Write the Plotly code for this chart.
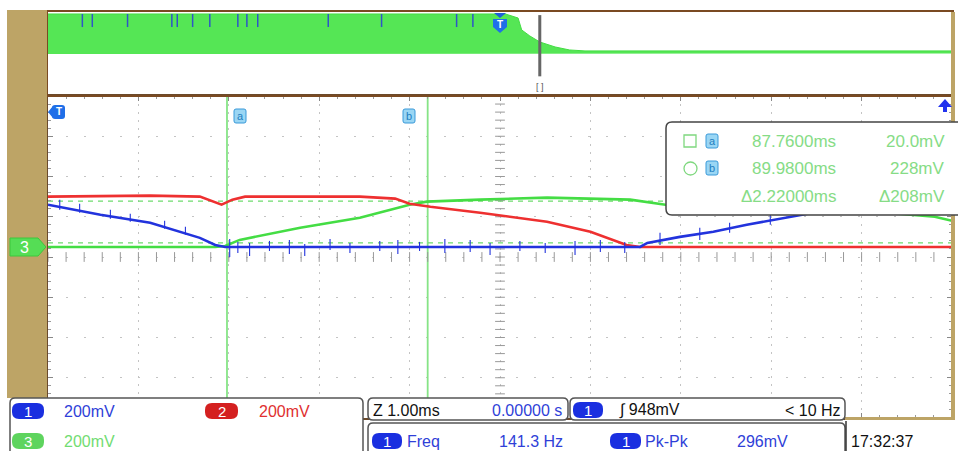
import numpy as np
import plotly.graph_objects as go

# ---------------- data ----------------
# main window: time in ms (1 ms/div), volts in mV (200 mV/div, all grounds on the same level)
red_t = [85.78, 86.91, 87.46, 87.63, 87.70, 87.82, 87.96, 89.23, 89.62, 89.78, 90.01, 90.56, 91.30, 91.78, 92.18, 92.33, 95.78]
red_v = [250, 255, 250, 220, 210, 235, 250, 250, 240, 215, 200, 170, 125, 75, 10, 0, 0]

green_t = [85.78, 87.63, 87.74, 87.90, 88.57, 89.23, 89.78, 89.97, 90.56, 91.30, 92.22, 92.61, 94.10, 95.59, 95.78]
green_v = [0, 0, 5, 35, 95, 145, 210, 225, 235, 245, 235, 210, 205, 150, 130]

blue_t = [85.78, 86.36, 86.91, 87.46, 87.63, 87.74, 92.33, 92.41, 92.77, 93.14, 93.51, 93.99, 94.43, 95.78]
blue_v = [210, 160, 120, 45, 10, 0, 0, 20, 50, 75, 110, 150, 185, 260]

# noise spikes on ch1 (time, low, high)
spike_t = [85.91, 86.13, 86.47, 86.69, 87.07, 87.30, 87.79, 87.88, 88.01, 88.23, 88.45, 88.62, 88.90, 89.12,
           89.45, 89.65, 89.89, 90.17, 90.45, 90.67, 91.00, 91.28, 91.61, 91.89, 92.16, 92.55, 92.99, 93.32, 93.77]
spike_lo = [185, 170, 140, 125, 90, 60, -50, -30, -45, -20, -35, -45, -15, -30,
            -20, -35, -20, -30, -25, -40, -20, -30, -40, -25, -30, 10, 35, 70, 110]
spike_hi = [235, 215, 185, 165, 130, 100, 40, 25, 20, 30, 35, 15, 40, 20,
            30, 35, 25, 40, 35, 20, 30, 20, 30, 35, 25, 70, 95, 120, 165]

# cursors
cur_a_t, cur_b_t = 87.76, 89.98
cur_a_v, cur_b_v = 20.0, 228.0

# overview window (divisions)
ov_t = [0, 5.06, 5.20, 5.24, 5.33, 5.44, 5.61, 5.77, 5.94, 10]
ov_hi = [3.81, 3.81, 3.42, 2.27, 1.69, 1.11, 0.63, 0.34, 0.25, 0.25]
ov_lo = [-0.05, -0.05, -0.05, -0.02, 0, 0, 0, 0, 0, 0]
ov_spike_t = [0.38, 0.49, 0.88, 1.37, 1.43, 1.60, 1.79, 2.10, 2.20, 2.32, 3.10, 3.69, 4.52, 4.70]
zoom_pos = 5.44

# readouts
ch_scale = ["200mV", "200mV", "200mV"]
readout_a = ["87.7600ms", "20.0mV"]
readout_b = ["89.9800ms", "228mV"]
readout_d = ["Δ2.22000ms", "Δ208mV"]

W, H = 958, 451
FONT = "Liberation Sans, Arial"
BLUE, RED, GREEN = "#2233dd", "#ee3030", "#44dd44"
TAN = "#bda466"


def px(x):
    return x / W


def py(y):
    return 1 - y / H


def rrect(x0, y0, x1, y1, r):
    # rounded rect path in paper coords from pixel numbers
    p = [f"M{px(x0 + r)},{py(y0)}", f"L{px(x1 - r)},{py(y0)}", f"Q{px(x1)},{py(y0)} {px(x1)},{py(y0 + r)}",
         f"L{px(x1)},{py(y1 - r)}", f"Q{px(x1)},{py(y1)} {px(x1 - r)},{py(y1)}", f"L{px(x0 + r)},{py(y1)}",
         f"Q{px(x0)},{py(y1)} {px(x0)},{py(y1 - r)}", f"L{px(x0)},{py(y0 + r)}",
         f"Q{px(x0)},{py(y0)} {px(x0 + r)},{py(y0)}", "Z"]
    return " ".join(p)


def poly(pts):
    return "M" + " L".join(f"{px(a)},{py(b)}" for a, b in pts) + " Z"


fig = go.Figure()

# cursors (drawn first so the waveforms sit on top)
for t in [cur_a_t, cur_b_t]:
    fig.add_trace(go.Scatter(x=[t, t], y=[-850, 750], mode="lines", line=dict(color="#86e486", width=1.8),
                             hoverinfo="skip"))
for v in [cur_a_v, cur_b_v]:
    fig.add_trace(go.Scatter(x=[85.78, 95.78], y=[v, v], mode="lines",
                             line=dict(color="#6edc6e", width=1.2, dash="5px,5px"), hoverinfo="skip"))

# centre graticule ticks
gx = np.arange(85.78, 95.79, 0.2)
gy = np.arange(-850, 751, 40)
fig.add_trace(go.Scatter(x=gx, y=[-50] * len(gx), mode="markers",
                         marker=dict(symbol="line-ns", size=7, line=dict(color="#999", width=1)), hoverinfo="skip"))
fig.add_trace(go.Scatter(x=[90.78] * len(gy), y=gy, mode="markers",
                         marker=dict(symbol="line-ew", size=7, line=dict(color="#999", width=1)), hoverinfo="skip"))

# waveforms
fig.add_trace(go.Scatter(x=green_t, y=green_v, mode="lines", line=dict(color=GREEN, width=2.6)))
fig.add_trace(go.Scatter(x=red_t, y=red_v, mode="lines", line=dict(color=RED, width=2.6)))
fig.add_trace(go.Scatter(x=blue_t, y=blue_v, mode="lines", line=dict(color=BLUE, width=2.6)))
sx, sy = [], []
for t, lo, hi in zip(spike_t, spike_lo, spike_hi):
    sx += [t, t, None]
    sy += [lo, hi, None]
fig.add_trace(go.Scatter(x=sx, y=sy, mode="lines", line=dict(color=BLUE, width=1.1)))

# overview window
fig.add_trace(go.Scatter(x=ov_t, y=ov_lo, mode="lines", line=dict(color=GREEN, width=0),
                         xaxis="x2", yaxis="y2"))
fig.add_trace(go.Scatter(x=ov_t, y=ov_hi, mode="lines", line=dict(color=GREEN, width=1), fill="tonexty",
                         fillcolor="#55e655", xaxis="x2", yaxis="y2"))
ox, oy = [], []
for t in ov_spike_t:
    ox += [t, t, None]
    oy += [3.81, 2.55, None]
fig.add_trace(go.Scatter(x=ox, y=oy, mode="lines", line=dict(color="#2f55c8", width=1.5), xaxis="x2", yaxis="y2"))
fig.add_trace(go.Scatter(x=[zoom_pos, zoom_pos], y=[3.7, -2.2], mode="lines", line=dict(color="#666", width=3),
                         xaxis="x2", yaxis="y2"))

shapes = []
annots = []

# bezel
shapes.append(dict(type="rect", xref="paper", yref="paper", x0=px(7), x1=px(47), y0=py(398), y1=py(10),
                   fillcolor=TAN, line_width=0, layer="above"))
shapes.append(dict(type="rect", xref="paper", yref="paper", x0=px(951), x1=px(955), y0=py(420), y1=py(12),
                   fillcolor=TAN, line_width=0, layer="above"))
shapes.append(dict(type="rect", xref="paper", yref="paper", x0=px(845), x1=px(955), y0=py(420), y1=py(417),
                   fillcolor=TAN, line_width=0, layer="above"))

# ch3 ground marker
shapes.append(dict(type="path", xref="paper", yref="paper", path=poly([(10, 238), (38, 238), (46, 247), (38, 256), (10, 256)]),
                   fillcolor="#55dd55", line=dict(color="#3cc83c", width=1)))
annots.append(dict(x=px(24), y=py(247), text="3", font=dict(color="white", size=16, family=FONT)))

# trigger markers
shapes.append(dict(type="path", xref="paper", yref="paper", path=poly([(48, 112), (53, 106), (53, 118)]),
                   fillcolor="#1f6fe8", line_width=0))
shapes.append(dict(type="path", xref="paper", yref="paper", path=rrect(52, 105, 65, 119, 3),
                   fillcolor="#1f6fe8", line_width=0))
annots.append(dict(x=px(59), y=py(112), text="<b>T</b>", font=dict(color="white", size=10, family=FONT)))
shapes.append(dict(type="path", xref="paper", yref="paper", path=poly([(494, 13), (506, 13), (500, 18)]),
                   fillcolor="#1f5fd8", line_width=0))
shapes.append(dict(type="path", xref="paper", yref="paper", path=poly([(493, 19), (507, 19), (507, 27), (500, 33), (493, 27)]),
                   fillcolor="#1f6fe8", line_width=0))
annots.append(dict(x=px(500), y=py(25), text="<b>T</b>", font=dict(color="white", size=10, family=FONT)))
annots.append(dict(x=px(540), y=py(87), text="[ ]", font=dict(color="#555", size=9, family=FONT)))
shapes.append(dict(type="path", xref="paper", yref="paper",
                   path=poly([(938, 107), (945, 99), (952, 107), (947, 107), (947, 112), (943, 112), (943, 107)]),
                   fillcolor="#2233ee", line_width=0))

# cursor flags
for xx, lab in [(240, "a"), (409, "b")]:
    shapes.append(dict(type="path", xref="paper", yref="paper", path=rrect(xx - 6, 109, xx + 6, 123, 2),
                       fillcolor="#9ad6f4", line=dict(color="#3a9ad9", width=1)))
    annots.append(dict(x=px(xx), y=py(116), text=lab, font=dict(color="#1f7fc0", size=11, family=FONT)))

# cursor readout box
shapes.append(dict(type="path", xref="paper", yref="paper", path=rrect(666, 122, 975, 215, 6),
                   fillcolor="white", line=dict(color="#444", width=1.5)))
shapes.append(dict(type="rect", xref="paper", yref="paper", x0=px(684), x1=px(696), y0=py(147), y1=py(135),
                   line=dict(color="#7fd87f", width=1.3)))
shapes.append(dict(type="circle", xref="paper", yref="paper", x0=px(684), x1=px(697), y0=py(175), y1=py(162),
                   line=dict(color="#7fd87f", width=1.3)))
for yy, lab in [(141, "a"), (168, "b")]:
    shapes.append(dict(type="path", xref="paper", yref="paper", path=rrect(706, yy - 7, 718, yy + 7, 2),
                       fillcolor="#9ad6f4", line=dict(color="#3a9ad9", width=1)))
    annots.append(dict(x=px(712), y=py(yy), text=lab, font=dict(color="#1f7fc0", size=11, family=FONT)))
for yy, row in [(141, readout_a), (168, readout_b), (197, readout_d)]:
    annots.append(dict(x=px(838), y=py(yy), text=row[0], xanchor="right",
                       font=dict(color="#86dc86", size=17, family=FONT)))
    annots.append(dict(x=px(947), y=py(yy), text=row[1], xanchor="right",
                       font=dict(color="#86dc86", size=17, family=FONT)))

# bottom info boxes
for x0, y0, x1, y1 in [(10, 398, 363, 470), (368, 398, 568, 420), (570, 398, 845, 420), (368, 423, 845, 470)]:
    shapes.append(dict(type="path", xref="paper", yref="paper", path=rrect(x0, y0, x1, y1, 5),
                       fillcolor="white", line=dict(color="#555", width=1.5)))
shapes.append(dict(type="line", xref="paper", yref="paper", x0=px(846), x1=px(846), y0=py(421), y1=py(460),
                   line=dict(color="#333", width=1.5)))

pills = [(12, 44, 411, "#1a2fe0", "1"), (205, 238, 411, "#d42020", "2"), (12, 44, 441, "#5ed45e", "3"),
         (573, 603, 410, "#1a2fe0", "1"), (372, 402, 441, "#1a2fe0", "1"), (610, 641, 441, "#1a2fe0", "1")]
for x0, x1, yc, col, lab in pills:
    shapes.append(dict(type="path", xref="paper", yref="paper", path=rrect(x0, yc - 8, x1, yc + 8, 7),
                       fillcolor=col, line_width=0))
    annots.append(dict(x=px((x0 + x1) / 2), y=py(yc), text=lab, font=dict(color="white", size=15, family=FONT)))

texts = [(62, 411, ch_scale[0], "#2f3fd8"), (257, 411, ch_scale[1], "#e03030"), (62, 441, ch_scale[2], "#72dc72"),
         (371, 410, "Z 1.00ms", "#111"), (617, 410, "∫ 948mV", "#111"),
         (405, 441, "Freq", "#2f3fd8"), (497, 441, "141.3 Hz", "#2f3fd8"), (643, 441, "Pk-Pk", "#2f3fd8"),
         (735, 441, "296mV", "#2f3fd8"), (849, 441, "17:32:37", "#111")]
for xx, yy, tx, col in texts:
    annots.append(dict(x=px(xx), y=py(yy), text=tx, xanchor="left", font=dict(color=col, size=16, family=FONT)))
annots.append(dict(x=px(564), y=py(410), text="0.00000 s", xanchor="right", font=dict(color="#2f3fd8", size=16, family=FONT)))
annots.append(dict(x=px(843), y=py(410), text="< 10 Hz", xanchor="right", font=dict(color="#111", size=16, family=FONT)))

for a in annots:
    a.setdefault("xanchor", "center")
    a.update(xref="paper", yref="paper", yanchor="middle", showarrow=False)

fig.update_layout(
    width=W, height=H, margin=dict(l=0, r=0, t=0, b=0),
    paper_bgcolor="white", plot_bgcolor="white", showlegend=False,
    xaxis=dict(domain=[px(48), px(952)], range=[85.78, 95.78], tick0=85.78, dtick=1,
               showgrid=True, gridcolor="#c4c4c4", griddash="2px,6px", gridwidth=1,
               ticks="inside", ticklen=5, tickcolor="#888", mirror="allticks",
               minor=dict(tick0=85.78, dtick=0.2, ticks="inside", ticklen=3, tickcolor="#999", showgrid=False),
               showline=True, linecolor="#6b4a2b", linewidth=2, showticklabels=False, zeroline=False),
    yaxis=dict(domain=[py(418), py(96)], range=[-850, 750], tick0=-50, dtick=200,
               showgrid=True, gridcolor="#c4c4c4", griddash="2px,16px", gridwidth=1,
               ticks="inside", ticklen=5, tickcolor="#888", mirror="allticks",
               minor=dict(tick0=-50, dtick=40, ticks="inside", ticklen=3, tickcolor="#999", showgrid=False),
               showline=True, linecolor="#6b4a2b", linewidth=2, showticklabels=False, zeroline=False),
    xaxis2=dict(domain=[px(48), px(952)], range=[0, 10], anchor="y2", showgrid=False, showticklabels=False,
                showline=True, linecolor="#7a4a22", linewidth=2, mirror=True, zeroline=False),
    yaxis2=dict(domain=[py(95), py(12)], range=[-4, 4], anchor="x2", showgrid=False, showticklabels=False,
                showline=True, linecolor="#7a4a22", linewidth=2, mirror=True, zeroline=False),
    shapes=shapes, annotations=annots,
)

# the page body has a default 8px margin; drop it so the figure sits at the window corner
fig.write_html("out.html", config={"displayModeBar": False},
               post_script="document.body.style.margin='0';")
